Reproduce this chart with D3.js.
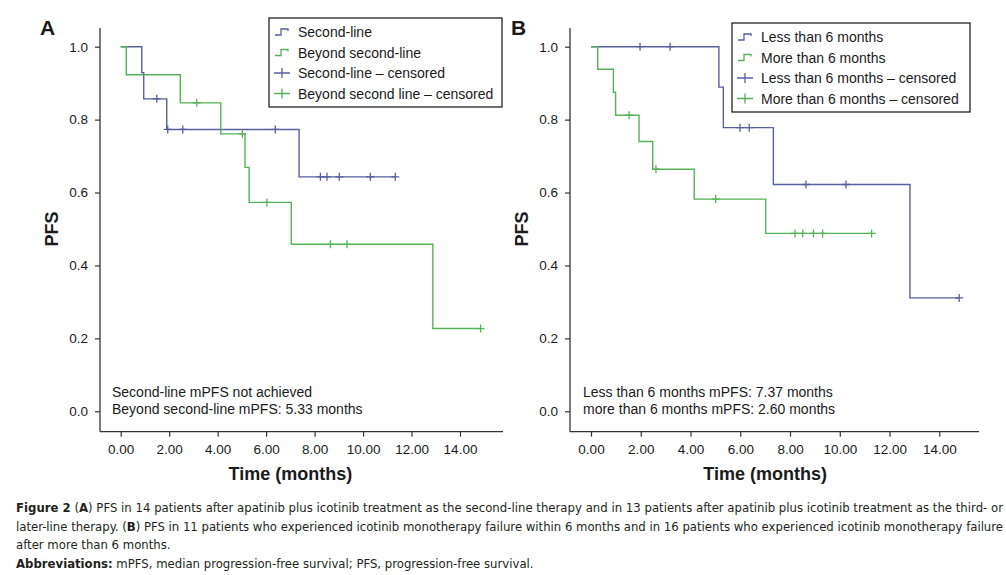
<!DOCTYPE html>
<html lang="en">
  <head>
    <meta charset="UTF-8" />
    <title>PFS Kaplan-Meier</title>
    <script src="https://cdn.jsdelivr.net/npm/d3@7"></script>
    <style>
      body { margin: 0; background: #fff; }
      svg text { font-family: "Liberation Sans", Arial, sans-serif; fill: #1a1a1a; }
      .caption text { font-family: "Liberation Sans Narrow", "DejaVu Sans Condensed", sans-serif; fill: #231f20; }
    </style>
  </head>
  <body>
    <script>
      // ---- data ----
      const xTicks = [0, 2, 4, 6, 8, 10, 12, 14];
      const yTicks = [0, 0.2, 0.4, 0.6, 0.8, 1.0];

      // panel A: [time, survival after drop]
      const secondLineSteps = [[0, 1], [0.87, 0.929], [0.95, 0.857], [1.9, 0.773], [7.36, 0.643]];
      const secondLineEnd = 11.33;
      const secondLineCensored = [1.49, 1.94, 2.56, 6.38, 8.24, 8.51, 9.02, 10.3, 11.33];

      const beyondSteps = [[0, 1], [0.23, 0.923], [2.46, 0.846], [4.13, 0.761], [5.13, 0.669], [5.3, 0.573], [7.04, 0.458], [12.88, 0.227]];
      const beyondEnd = 14.85;
      const beyondCensored = [3.14, 5.02, 6.03, 8.65, 9.34, 14.85];

      // panel B
      const lessSteps = [[0, 1], [5.14, 0.889], [5.32, 0.778], [7.33, 0.622], [12.82, 0.311]];
      const lessEnd = 14.8;
      const lessCensored = [1.97, 3.18, 5.99, 6.36, 8.64, 10.25, 14.8];

      const moreSteps = [[0, 1], [0.27, 0.938], [0.9, 0.875], [0.99, 0.812], [1.93, 0.74], [2.48, 0.664], [4.15, 0.582], [7.02, 0.488]];
      const moreEnd = 11.28;
      const moreCensored = [1.53, 2.61, 5.01, 8.2, 8.51, 8.94, 9.31, 11.28];

      const legendA = ["Second-line", "Beyond second-line", "Second-line \u2013 censored", "Beyond second line \u2013 censored"];
      const legendB = ["Less than 6 months", "More than 6 months", "Less than 6 months \u2013 censored", "More than 6 months \u2013 censored"];
      const noteA = ["Second-line mPFS not achieved", "Beyond second-line mPFS: 5.33 months"];
      const noteB = ["Less than 6 months mPFS: 7.37 months", "more than 6 months mPFS: 2.60 months"];

      const blue = "#56609f";
      const green = "#55b357";

      const svg = d3.select("body").append("svg").attr("width", 1006).attr("height", 575);

      function survivalAt(steps, t) {
        let s = 1;
        for (const [time, val] of steps) if (time <= t) s = val;
        return s;
      }

      function drawPanel(cfg) {
        const g = svg.append("g");
        const x = d3.scaleLinear().domain([0, 14]).range(cfg.xRange);
        const y = d3.scaleLinear().domain([0, 1]).range([411.3, 46.7]);

        // axis lines
        g.append("line").attr("x1", cfg.axisX).attr("x2", cfg.axisX).attr("y1", 28).attr("y2", 431.7)
          .attr("stroke", "#333").attr("stroke-width", 1.3);
        g.append("line").attr("x1", cfg.axisX).attr("x2", cfg.axisEnd).attr("y1", 431.7).attr("y2", 431.7)
          .attr("stroke", "#333").attr("stroke-width", 1.3);

        const xAxis = g.append("g").attr("transform", "translate(0,431.7)")
          .call(d3.axisBottom(x).tickValues(xTicks).tickFormat(d3.format(".2f")).tickSize(5).tickPadding(8));
        const yAxis = g.append("g").attr("transform", `translate(${cfg.axisX},0)`)
          .call(d3.axisLeft(y).tickValues(yTicks).tickFormat(d3.format(".1f")).tickSize(5).tickPadding(7));
        [xAxis, yAxis].forEach((a) => {
          a.select(".domain").remove();
          a.selectAll("line").attr("stroke", "#333").attr("stroke-width", 1.2);
          a.selectAll("text").attr("font-size", 13.5).attr("fill", "#222")
            .attr("font-family", "Liberation Sans, Arial, sans-serif");
        });

        g.append("text").attr("x", (cfg.xRange[0] + cfg.xRange[1]) / 2).attr("y", 480)
          .attr("text-anchor", "middle").attr("font-size", 18).attr("font-weight", "bold").text("Time (months)");
        g.append("text").attr("transform", `translate(${cfg.axisX - 42},229) rotate(-90)`)
          .attr("text-anchor", "middle").attr("font-size", 18).attr("font-weight", "bold").text("PFS");
        g.append("text").attr("x", cfg.letterX).attr("y", 35).attr("font-size", 21).attr("font-weight", "bold").text(cfg.letter);

        // curves
        cfg.series.forEach((s) => {
          const pts = s.steps.concat([[s.end, s.steps[s.steps.length - 1][1]]]);
          const line = d3.line().x((d) => x(d[0])).y((d) => y(d[1])).curve(d3.curveStepAfter);
          g.append("path").attr("d", line(pts)).attr("fill", "none").attr("stroke", s.color).attr("stroke-width", 1.4);
          g.selectAll(null).data(s.censored).join("path")
            .attr("d", (t) => {
              const cx = x(t), cy = y(survivalAt(s.steps, t));
              return `M${cx},${cy - 4}V${cy + 4}M${cx - 4},${cy}H${cx + 4}`;
            })
            .attr("stroke", s.color).attr("stroke-width", 1.3);
        });

        // notes
        cfg.note.forEach((t, i) => {
          g.append("text").attr("x", cfg.noteX).attr("y", 397 + i * 17).attr("font-size", 14).text(t);
        });

        // legend
        const lg = g.append("g").attr("transform", `translate(${cfg.legend[0]},${cfg.legend[1]})`);
        lg.append("rect").attr("width", cfg.legend[2]).attr("height", 89).attr("fill", "#fff")
          .attr("stroke", "#111").attr("stroke-width", 1.2);
        cfg.legendLabels.forEach((lab, i) => {
          const cy = 14 + i * 20.5;
          const col = i % 2 === 0 ? blue : green;
          if (i < 2) {
            lg.append("path").attr("d", `M6,${cy + 3}H12V${cy - 3}H19V${cy - 1}`)
              .attr("fill", "none").attr("stroke", col).attr("stroke-width", 1.3);
          } else {
            lg.append("path").attr("d", `M5,${cy}H21M13,${cy - 5}V${cy + 5}`)
              .attr("stroke", col).attr("stroke-width", 1.3);
          }
          lg.append("text").attr("x", 29).attr("y", cy + 5).attr("font-size", 14).text(lab);
        });
      }

      drawPanel({
        letter: "A", letterX: 40, axisX: 100, axisEnd: 503, xRange: [120.7, 460], noteX: 112,
        note: noteA, legendLabels: legendA, legend: [269, 18, 233],
        series: [
          { steps: secondLineSteps, end: secondLineEnd, censored: secondLineCensored, color: blue },
          { steps: beyondSteps, end: beyondEnd, censored: beyondCensored, color: green },
        ],
      });
      drawPanel({
        letter: "B", letterX: 511, axisX: 570, axisEnd: 979, xRange: [591, 939.3], noteX: 583,
        note: noteB, legendLabels: legendB, legend: [732, 23, 238],
        series: [
          { steps: lessSteps, end: lessEnd, censored: lessCensored, color: blue },
          { steps: moreSteps, end: moreEnd, censored: moreCensored, color: green },
        ],
      });

      // caption
      const cap = svg.append("g").attr("class", "caption").attr("font-size", 13);
      const capLines = [
        [["Figure 2", true], [" (", false], ["A", true], [") PFS in 14 patients after apatinib plus icotinib treatment as the second-line therapy and in 13 patients after apatinib plus icotinib treatment as the third- or", false]],
        [["later-line therapy. (", false], ["B", true], [") PFS in 11 patients who experienced icotinib monotherapy failure within 6 months and in 16 patients who experienced icotinib monotherapy failure", false]],
        [["after more than 6 months.", false]],
        [["Abbreviations:", true], [" mPFS, median progression-free survival; PFS, progression-free survival.", false]],
      ];
      capLines.forEach((parts, i) => {
        const t = cap.append("text").attr("x", 16).attr("y", 512 + i * 18.5);
        if (i < 2) t.attr("textLength", 987).attr("lengthAdjust", "spacing");
        parts.forEach(([s, b]) => t.append("tspan").attr("font-weight", b ? "bold" : null).text(s));
      });
    </script>
  </body>
</html>
